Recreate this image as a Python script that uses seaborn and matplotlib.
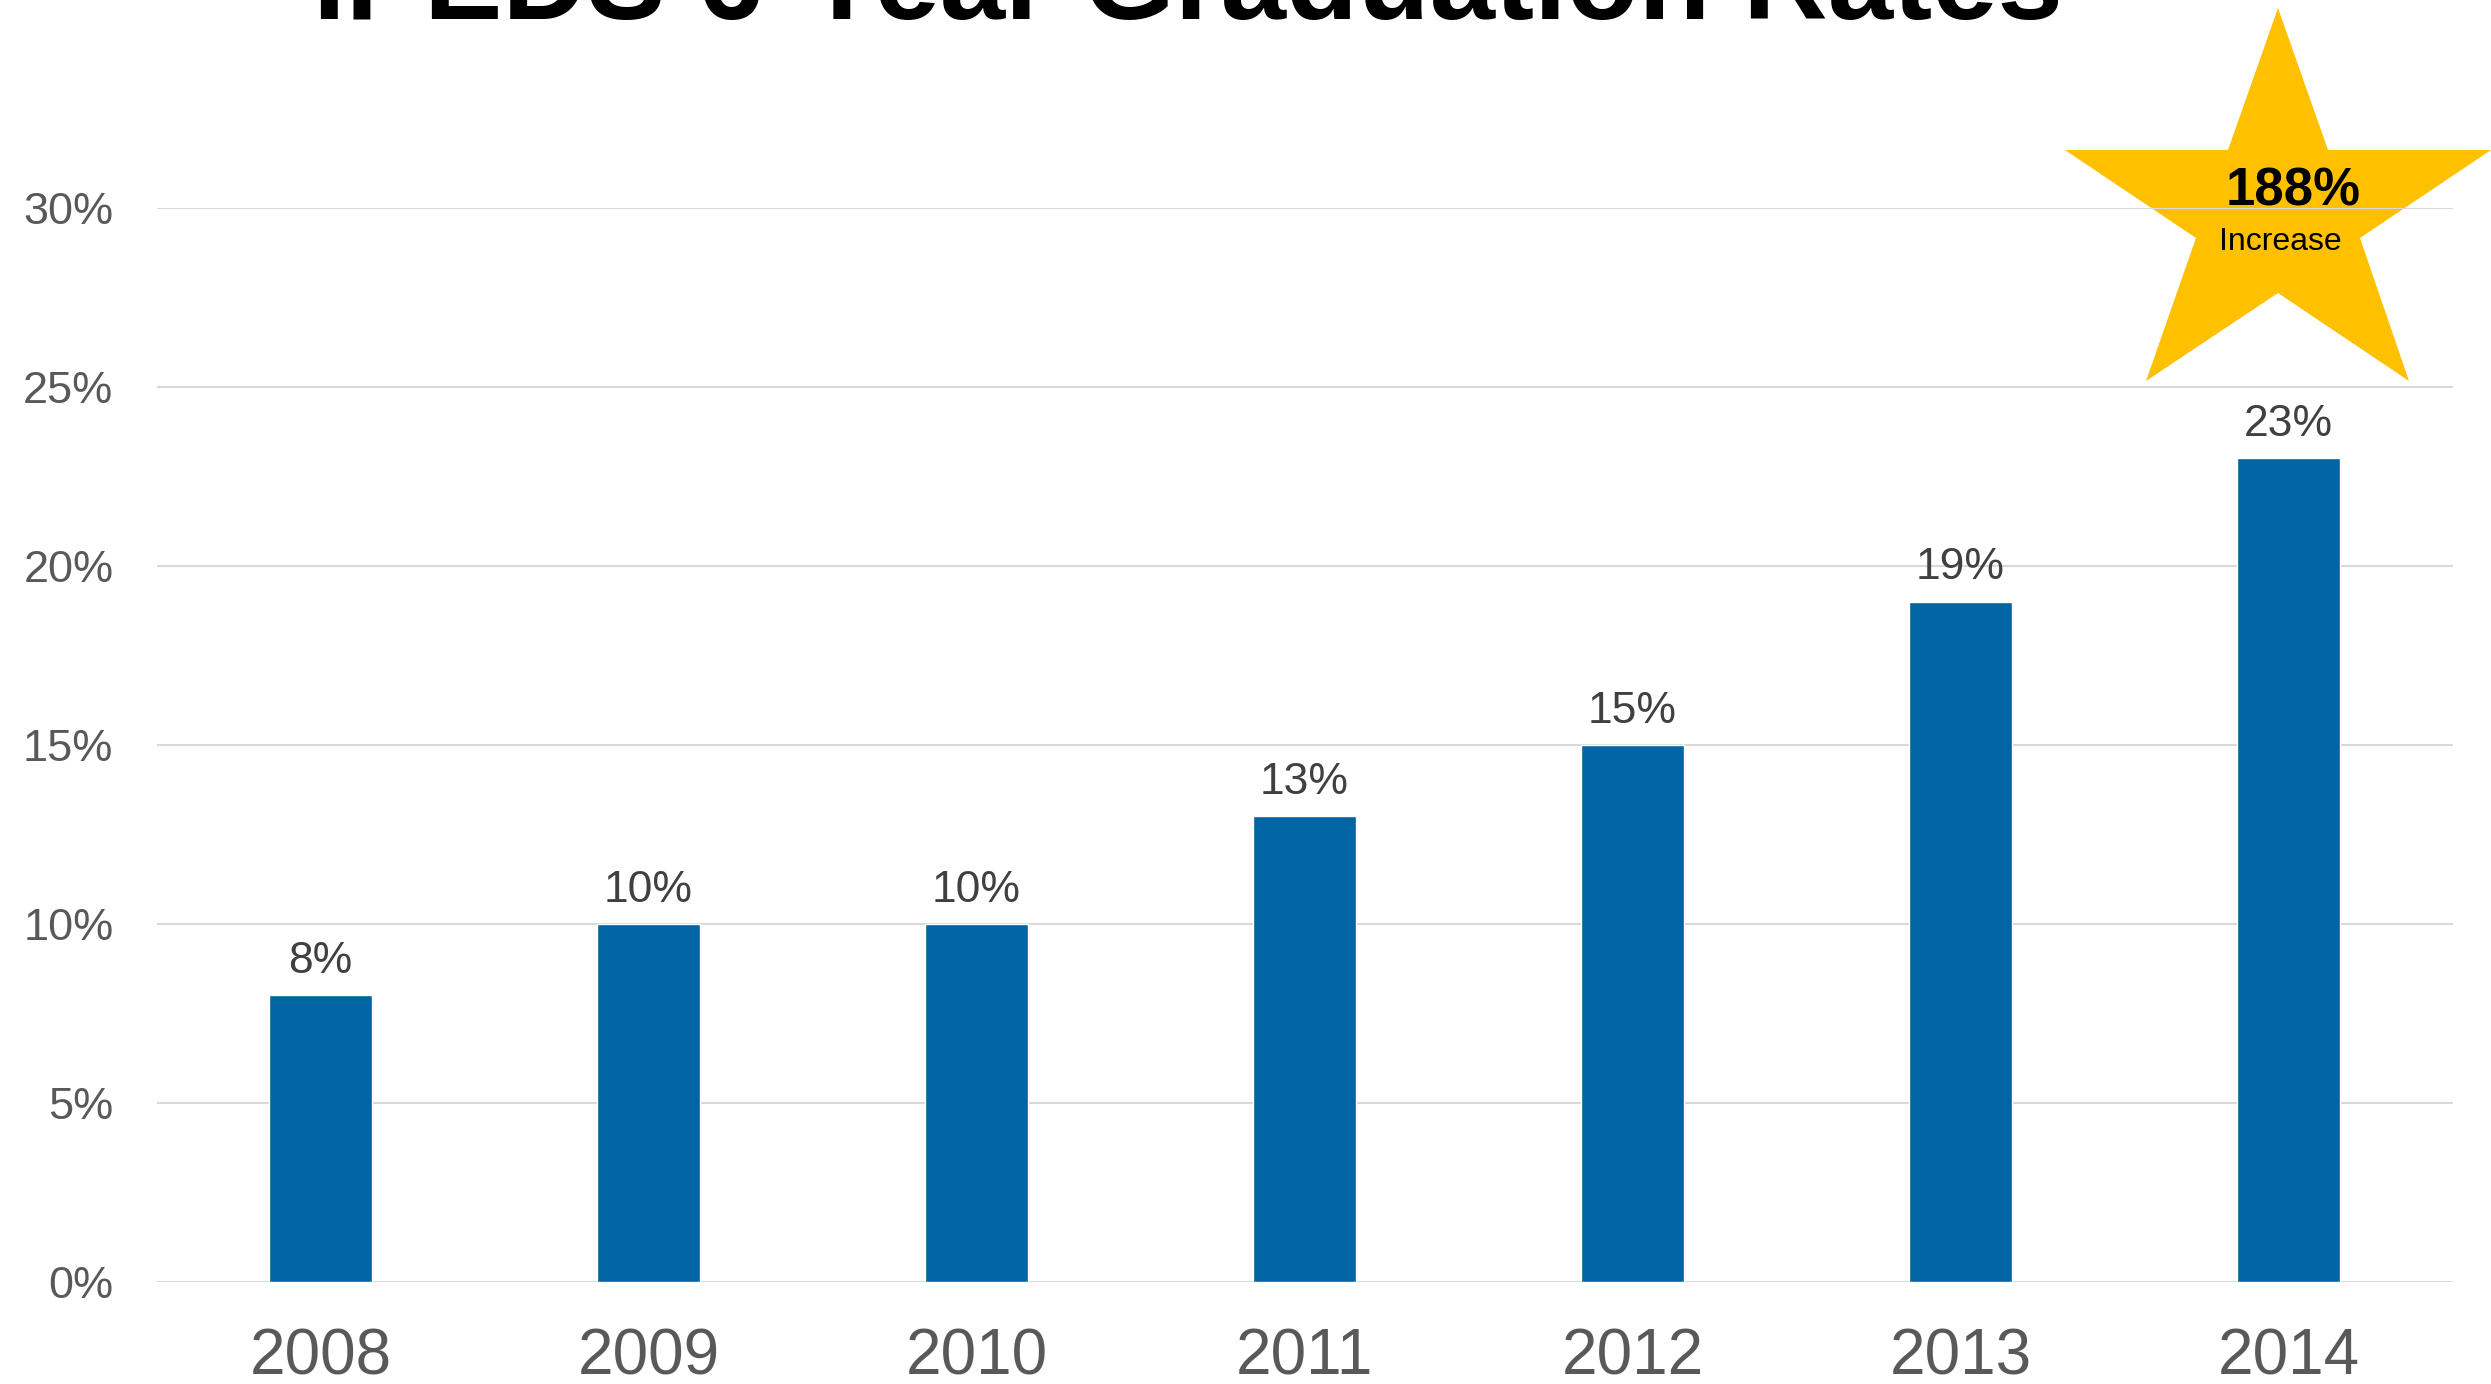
import matplotlib
matplotlib.use("Agg")
import matplotlib.pyplot as plt
import seaborn as sns
import pandas as pd
from matplotlib.patches import Polygon
from matplotlib.ticker import FuncFormatter, MultipleLocator

# ---- data ----
years = ["2008", "2009", "2010", "2011", "2012", "2013", "2014"]
rates = [0.08, 0.10, 0.10, 0.13, 0.15, 0.19, 0.23]
title = "IPEDS 6-Year Graduation Rates"
star_big = "188%"
star_small = "Increase"

df = pd.DataFrame({"year": years, "rate": rates})

sns.set_theme(style="white")
plt.rcParams["font.family"] = ["Liberation Sans", "DejaVu Sans"]

W, H = 2491, 1384
fig = plt.figure(figsize=(W / 100, H / 100), dpi=100)
fig.patch.set_facecolor("white")

ax = fig.add_axes([156.5 / W, 1 - 1282 / H, 2296 / W, (1282 - 207.6) / H])
ax.set_facecolor("none")
ax.set_zorder(2)

sns.barplot(data=df, x="year", y="rate", color="#0065A2", saturation=1,
            width=0.314, ax=ax, zorder=3)

ax.set_xlim(-0.5, len(years) - 0.5)
ax.set_ylim(0, 0.30)
ax.yaxis.set_major_locator(MultipleLocator(0.05))
ax.yaxis.set_major_formatter(FuncFormatter(lambda v, p: f"{v*100:.0f}%"))
ax.grid(axis="y", color="#D9D9D9", linewidth=1.5, zorder=0)
ax.set_axisbelow(True)
for s in ax.spines.values():
    s.set_visible(False)
ax.set_xlabel("")
ax.set_ylabel("")
ax.tick_params(axis="y", length=0, pad=31, labelsize=32.5, labelcolor="#595959")
ax.tick_params(axis="x", length=0, pad=33, labelsize=46, labelcolor="#595959")

for i, v in enumerate(rates):
    ax.annotate(f"{v*100:.0f}%", xy=(i, v), xytext=(0, 16), textcoords="offset points",
                ha="center", va="baseline", fontsize=32, color="#404040")

# title (partially cut off at top, as in reference)
fig.text(313 / W, 1 - 19 / H, title, ha="left", va="baseline",
         fontsize=84.6, fontweight="bold", color="black")

# star annotation behind the chart
pts = [(2278, 8), (2328, 150), (2491, 150), (2360, 238), (2409, 381),
       (2278, 293), (2146, 381), (2196, 238), (2065, 150), (2228, 150)]
star = Polygon([(x / W, 1 - y / H) for x, y in pts], closed=True,
               transform=fig.transFigure, facecolor="#FFC000", edgecolor="none",
               zorder=0.5)
fig.patches.append(star)

fig.text(2293 / W, 1 - 206 / H, star_big, ha="center", va="baseline",
         fontsize=38, fontweight="bold", color="black", zorder=5)
fig.text(2280 / W, 1 - 250 / H, star_small, ha="center", va="baseline",
         fontsize=23, color="black", zorder=5)

fig.savefig("out.png", dpi=100, facecolor="white")
